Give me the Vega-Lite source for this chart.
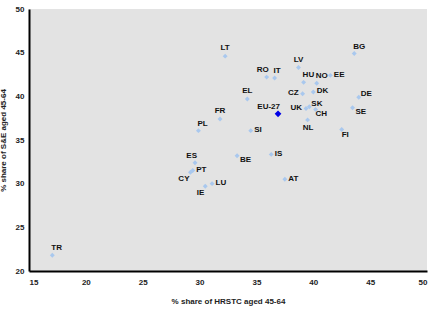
{
  "$schema": "https://vega.github.io/schema/vega-lite/v6.json",
  "width": 398,
  "height": 262,
  "autosize": {"type": "none"},
  "padding": {"left": 29, "top": 9, "right": 6, "bottom": 47},
  "background": "white",
  "config": {
    "view": {"fill": "#e3e3e3", "stroke": null},
    "font": "Liberation Sans",
    "axis": {
      "domainColor": "black", "domainWidth": 2, "ticks": false, "grid": false,
      "labelFont": "Liberation Sans", "labelFontWeight": "bold", "labelFontSize": 8, "labelColor": "#222",
      "titleFont": "Liberation Sans", "titleFontWeight": "bold", "titleFontSize": 8, "titleColor": "#222"
    }
  },
  "data": {"values": [
    {"c": "LT", "x": 32.25, "y": 44.6},
    {"c": "BG", "x": 43.6, "y": 44.9},
    {"c": "LV", "x": 38.7, "y": 43.3},
    {"c": "RO", "x": 35.9, "y": 42.2},
    {"c": "IT", "x": 36.6, "y": 42.1},
    {"c": "HU", "x": 39.15, "y": 41.6},
    {"c": "EE", "x": 41.5, "y": 42.4},
    {"c": "NO", "x": 40.3, "y": 41.5},
    {"c": "DK", "x": 40.0, "y": 40.5},
    {"c": "CZ", "x": 39.06, "y": 40.3},
    {"c": "DE", "x": 44.0, "y": 39.9},
    {"c": "EL", "x": 34.2, "y": 39.7},
    {"c": "SK", "x": 39.65, "y": 38.8},
    {"c": "UK", "x": 39.36, "y": 38.6},
    {"c": "CH", "x": 40.2, "y": 38.5},
    {"c": "NL", "x": 39.5, "y": 37.3},
    {"c": "SE", "x": 43.45, "y": 38.7},
    {"c": "EU-27", "x": 36.9, "y": 38.0},
    {"c": "FR", "x": 31.8, "y": 37.4},
    {"c": "PL", "x": 29.9, "y": 36.07},
    {"c": "SI", "x": 34.5, "y": 36.07},
    {"c": "FI", "x": 42.5, "y": 36.2},
    {"c": "IS", "x": 36.3, "y": 33.35},
    {"c": "BE", "x": 33.3, "y": 33.2},
    {"c": "AT", "x": 37.5, "y": 30.5},
    {"c": "LU", "x": 31.1, "y": 30.0},
    {"c": "IE", "x": 30.5, "y": 29.7},
    {"c": "ES", "x": 29.6, "y": 32.4},
    {"c": "PT", "x": 29.4, "y": 31.5},
    {"c": "CY", "x": 29.2, "y": 31.3},
    {"c": "TR", "x": 17.05, "y": 21.8}
  ]},
  "encoding": {
    "x": {"field": "x", "type": "quantitative", "scale": {"domain": [15, 50], "nice": false, "zero": false},
          "axis": {"values": [15, 20, 25, 30, 35, 40, 45, 50], "labelPadding": 7, "title": "% share of HRSTC aged 45-64", "titleY": 26, "titlePadding": 0}},
    "y": {"field": "y", "type": "quantitative", "scale": {"domain": [20, 50], "nice": false, "zero": false},
          "axis": {"values": [20, 25, 30, 35, 40, 45, 50], "labelPadding": 5, "title": "% share of S&E aged 45-64", "titleX": -22, "titlePadding": 0}},
    "text": {"field": "c"}
  },
  "layer": [
    {"transform": [{"filter": "datum.c != 'EU-27'"}],
     "mark": {"type": "point", "shape": "diamond", "filled": true, "size": 24, "color": "#a9c8ee", "opacity": 1}},
    {"transform": [{"filter": "datum.c == 'EU-27'"}],
     "mark": {"type": "point", "shape": "diamond", "filled": true, "size": 45, "color": "#0000e6", "opacity": 1}},
    {"transform": [{"filter": {"field": "c", "oneOf": ["LT", "EL", "FR", "LV"]}}],
     "mark": {"type": "text", "align": "center", "baseline": "middle", "dy": -8, "fontSize": 8, "fontWeight": "bold", "color": "#111"}},
    {"transform": [{"filter": {"field": "c", "oneOf": ["BG", "IT", "HU", "NO", "PL", "TR"]}}],
     "mark": {"type": "text", "align": "left", "baseline": "middle", "dx": -1, "dy": -7, "fontSize": 8, "fontWeight": "bold", "color": "#111"}},
    {"transform": [{"filter": {"field": "c", "oneOf": ["SK", "DE"]}}],
     "mark": {"type": "text", "align": "left", "baseline": "middle", "dx": 2, "dy": -3, "fontSize": 8, "fontWeight": "bold", "color": "#111"}},
    {"transform": [{"filter": {"field": "c", "oneOf": ["RO", "ES", "EU-27"]}}],
     "mark": {"type": "text", "align": "right", "baseline": "middle", "dx": 2, "dy": -7, "fontSize": 8, "fontWeight": "bold", "color": "#111"}},
    {"transform": [{"filter": {"field": "c", "oneOf": ["EE", "DK", "SI", "IS", "AT", "LU", "PT"]}}],
     "mark": {"type": "text", "align": "left", "baseline": "middle", "dx": 3.5, "dy": -0.5, "fontSize": 8, "fontWeight": "bold", "color": "#111"}},
    {"transform": [{"filter": {"field": "c", "oneOf": ["CZ", "UK"]}}],
     "mark": {"type": "text", "align": "right", "baseline": "middle", "dx": -4, "dy": -1, "fontSize": 8, "fontWeight": "bold", "color": "#111"}},
    {"transform": [{"filter": {"field": "c", "oneOf": ["CH", "FI"]}}],
     "mark": {"type": "text", "align": "left", "baseline": "middle", "dx": 0, "dy": 5, "fontSize": 8, "fontWeight": "bold", "color": "#111"}},
    {"transform": [{"filter": {"field": "c", "oneOf": ["SE", "BE"]}}],
     "mark": {"type": "text", "align": "left", "baseline": "middle", "dx": 3, "dy": 4.5, "fontSize": 8, "fontWeight": "bold", "color": "#111"}},
    {"transform": [{"filter": {"field": "c", "oneOf": ["NL"]}}],
     "mark": {"type": "text", "align": "center", "baseline": "middle", "dx": 0.5, "dy": 8, "fontSize": 8, "fontWeight": "bold", "color": "#111"}},
    {"transform": [{"filter": {"field": "c", "oneOf": ["IE", "CY"]}}],
     "mark": {"type": "text", "align": "right", "baseline": "middle", "dx": -1, "dy": 6.5, "fontSize": 8, "fontWeight": "bold", "color": "#111"}}
  ]
}
